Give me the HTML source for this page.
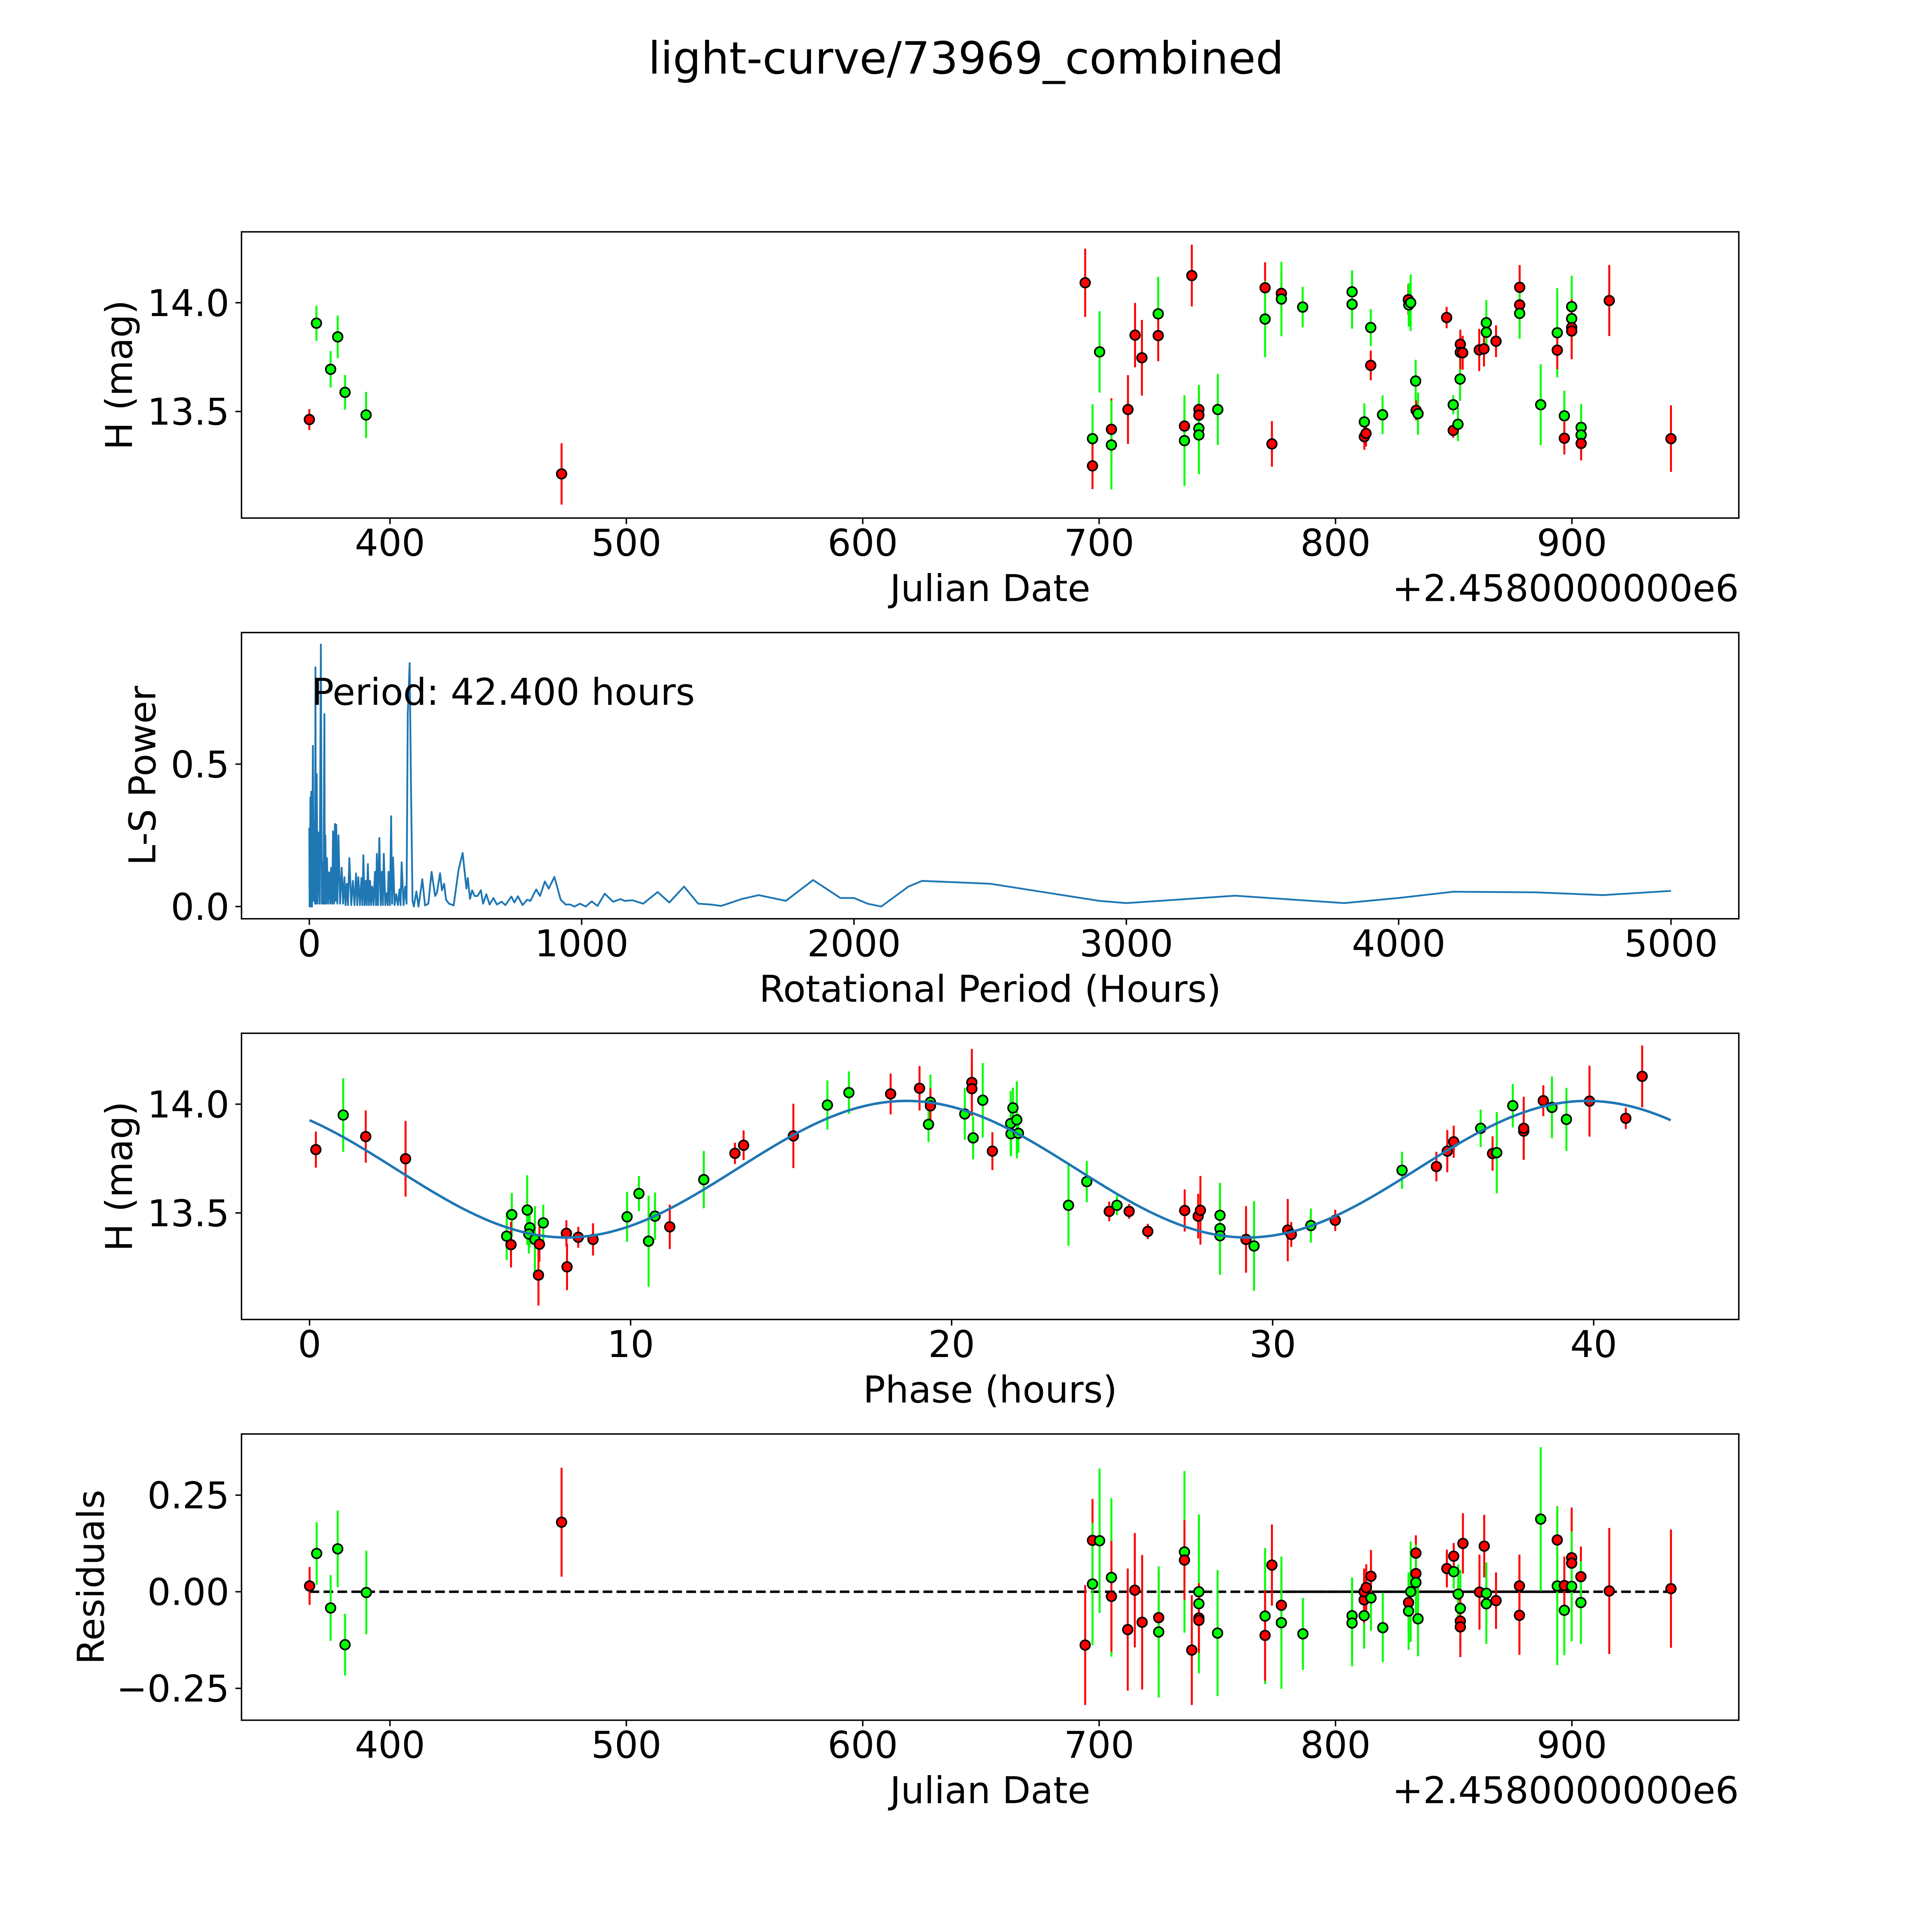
<!DOCTYPE html>
<html><head><meta charset="utf-8"><title>light-curve/73969_combined</title>
<style>
html,body{margin:0;padding:0;background:#fff;overflow:hidden;width:100%;height:100%;}
svg{display:block;width:100vw;height:100vh;}
text{font-family:"DejaVu Sans","Liberation Sans",sans-serif;fill:#000;}
</style></head>
<body>
<svg id="fig" xmlns="http://www.w3.org/2000/svg" viewBox="0 0 5400 5400" preserveAspectRatio="none">
<rect x="0" y="0" width="5400" height="5400" fill="#fff"/>
<text x="2700" y="206" font-size="124" text-anchor="middle">light-curve/73969_combined</text>
</svg>
<script>
// ---------- Panel 1: light curve (Julian Date offset from 2458000) ----------
const lcDate = [365.9,368.9,374.9,377.9,381.0,389.9,472.6,694.1,700.2,697.2,697.2,705.2,705.2,712.2,715.2,718.1,725.0,725.0,739.2,736.1,736.1,742.2,742.2,742.2,742.2,750.2,770.2,770.2,773.1,777.1,777.1,786.1,807.0,807.0,814.9,814.9,812.2,812.2,812.9,819.9,830.8,831.0,831.8,833.9,834.1,834.9,847.0,849.8,849.8,851.8,852.7,852.8,852.8,853.8,860.8,862.8,863.8,863.8,867.9,877.9,877.9,877.9,886.8,893.8,893.8,896.8,896.8,899.9,899.9,899.9,899.9,903.9,903.9,903.9,915.8,941.9];
const lcMag = [13.463,13.906,13.694,13.843,13.588,13.484,13.213,14.092,13.774,13.375,13.250,13.418,13.346,13.509,13.851,13.747,13.949,13.849,14.125,13.433,13.366,13.509,13.483,13.422,13.392,13.509,14.069,13.925,13.351,14.043,14.017,13.980,14.050,13.993,13.886,13.712,13.452,13.384,13.399,13.485,14.014,13.990,14.000,13.640,13.505,13.490,13.932,13.531,13.413,13.441,13.649,13.809,13.772,13.770,13.783,13.788,13.908,13.864,13.823,14.071,13.990,13.951,13.531,13.862,13.782,13.480,13.377,13.982,13.927,13.886,13.870,13.427,13.392,13.353,14.010,13.375];
const lcErr = [0.048,0.081,0.084,0.098,0.080,0.106,0.141,0.157,0.187,0.158,0.107,0.143,0.205,0.158,0.148,0.174,0.170,0.118,0.142,0.103,0.209,0.09,0.08,0.20,0.18,0.163,0.117,0.176,0.105,0.094,0.171,0.093,0.099,0.112,0.085,0.068,0.085,0.06,0.06,0.089,0.07,0.10,0.13,0.098,0.046,0.097,0.049,0.044,0.034,0.077,0.10,0.067,0.078,0.078,0.097,0.081,0.104,0.08,0.073,0.102,0.081,0.117,0.186,0.205,0.087,0.116,0.075,0.142,0.10,0.13,0.13,0.107,0.10,0.078,0.163,0.153];
const lcBand = ["r","g","g","g","g","g","r",
 "r","g","g","r","r","g","r","r","r","g","r","r","r","g","r","r","g","g","g","r","g","r","r","g","g",
 "g","g","g","r","g","r","r","g","r","g","g","g","r","g","r","g","r","g","g","r","r","r","r","r","g","g","r",
 "r","r","g","g","g","r","g","r","g","g","r","r","g","g","r","r","r"];

// ---------- Panel 2: Lomb-Scargle periodogram ----------
const lsPeriod = [0,1,3,4,6,7,8.4,10,13.1,16,19,21,22.5,24,27.2,30,33,38,42.4,46,49.5,52,55.4,57,59,62,64.7,69,73,77,80,84,87,91,94,97,99,103,107,113,119,124,129,133,137.5,142,147,154,160,166,171.5,176,180,186,191.4,195,198.5,203,207,211,215,219,223,227,231,236,241,245,248,252,257,262,266.5,270,273.5,279,284,288,291,296,300.5,304,307.5,313,319,325,331,335,339,346,352,357,361.5,368.5,373,379,384,393,401,415,425,437,449,462,469,480,487,495,502,513,530,548,563,577,582,590,598,607,618,630,638,650,662,676,689,706,720,742,753,766,783,800,812,833,847,865,879,900,923,941,958,974,994,1015,1037,1058,1085,1115,1143,1158,1187,1226,1279,1322,1376,1428,1475,1512,1590,1650,1750,1850,1950,2000,2050,2100,2200,2250,2500,2700,2900,3000,3200,3400,3600,3800,4000,4200,4500,4750,5000];
const lsPower = [0.277,0,0.2,0.383,0,0.403,0.01,0,0.564,0.02,0.297,0.01,0.84,0.01,0.465,0.01,0.26,0.01,0.92,0.01,0.155,0.01,0.676,0.01,0.25,0.01,0.17,0.01,0.12,0.01,0.136,0.01,0.264,0.01,0.29,0.02,0.287,0.01,0.25,0.01,0.136,0.01,0.103,0.005,0.08,0.005,0.17,0.005,0.09,0.005,0.116,0.005,0.103,0.005,0.1,0.005,0.18,0.005,0.09,0.005,0.149,0.005,0.09,0.005,0.07,0.005,0.122,0.005,0.185,0.005,0.241,0.005,0.122,0.005,0.185,0.005,0.047,0.005,0.122,0.005,0.317,0.01,0.172,0.005,0.043,0.005,0.06,0.005,0.155,0.005,0.07,0.01,0.676,0.855,0.445,0.02,0.0,0.053,0,0.096,0.004,0.01,0.122,0.037,0.05,0.117,0.057,0.08,0.024,0.01,0.004,0.129,0.188,0.063,0.1,0.027,0.057,0.037,0.037,0.057,0.01,0.043,0.007,0.03,0.007,0.017,0.005,0.035,0.014,0.036,0.005,0.024,0.02,0.06,0.037,0.088,0.063,0.104,0.024,0.007,0.007,0,0.01,0,0.018,0.002,0.045,0.017,0.026,0.02,0.022,0.01,0.051,0.014,0.07,0.01,0.007,0.002,0.027,0.04,0.02,0.093,0.03,0.03,0.01,0.0,0.07,0.09,0.08,0.05,0.02,0.012,0.025,0.038,0.025,0.012,0.03,0.052,0.05,0.04,0.055];
const lsPeriodLabel = "Period: 42.400 hours";

// ---------- Panel 3: phased light curve ----------
const phHours = [0.196,1.048,1.75,2.99,6.30,6.78,6.14,6.275,6.86,6.83,7.02,7.28,7.16,7.13,8.0,8.02,8.37,8.83,9.89,10.26,10.56,10.76,11.22,12.28,13.25,13.52,15.07,16.13,16.80,18.10,19.0,19.34,19.34,19.28,20.41,20.63,20.63,20.97,20.67,21.27,21.91,21.84,22.03,21.85,22.08,23.64,24.21,24.91,25.15,25.53,26.11,27.26,27.68,27.75,28.36,28.36,28.36,29.17,29.42,30.47,30.58,31.19,31.95,34.03,35.10,35.44,35.64,36.48,36.85,36.98,37.82,37.82,37.48,38.43,38.70,39.15,39.87,41.0,41.51];
const phMag = [13.791,13.950,13.851,13.749,13.492,13.513,13.393,13.354,13.432,13.403,13.378,13.454,13.356,13.214,13.406,13.252,13.388,13.378,13.482,13.589,13.370,13.485,13.436,13.653,13.774,13.811,13.854,13.996,14.053,14.047,14.073,14.009,13.992,13.907,13.955,14.100,14.071,14.018,13.845,13.784,13.983,13.911,13.928,13.864,13.866,13.535,13.644,13.507,13.535,13.507,13.415,13.511,13.485,13.512,13.489,13.428,13.395,13.378,13.348,13.421,13.401,13.442,13.466,13.696,13.713,13.784,13.827,13.889,13.773,13.777,13.876,13.889,13.993,14.016,13.985,13.930,14.014,13.935,14.128];
const phErr = [0.083,0.169,0.12,0.174,0.10,0.16,0.11,0.105,0.09,0.09,0.153,0.084,0.08,0.14,0.06,0.107,0.048,0.074,0.115,0.081,0.209,0.109,0.102,0.132,0.049,0.068,0.148,0.113,0.098,0.094,0.102,0.127,0.081,0.081,0.119,0.154,0.124,0.171,0.099,0.087,0.093,0.15,0.177,0.10,0.09,0.186,0.095,0.045,0.045,0.034,0.035,0.097,0.103,0.158,0.149,0.10,0.18,0.153,0.206,0.143,0.057,0.078,0.049,0.085,0.068,0.097,0.074,0.086,0.079,0.187,0.126,0.145,0.10,0.071,0.142,0.145,0.163,0.049,0.142];
const phBand = ["r","g","r","r","g","g","g","r","g","g","g","g","r","r","r","r","r","r","g","g",
 "g","g","r","g","r","r","r","g","g","r","r","g","r","g","g","r","r","g","g","r",
 "g","g","g","g","g","g","g","r","g","r","r","r","r","r","g","g","g","r","g","r",
 "r","g","r","g","r","r","r","g","r","g","r","r","g","r","g","g","r","r","r"];
// fitted model parameters
const fitMean = 13.701, fitAmp = 0.314, fitHalfPeriod = 21.2, fitPeak = 18.6, fitEnd = 42.4;

// ---------- Panel 4: residuals ----------
const resDate = [366.0,369.0,374.9,377.9,381.0,390.0,472.6,694.1,697.2,700.2,697.2,705.2,705.2,712.1,715.1,718.2,725.2,725.2,736.1,736.1,739.2,742.2,742.2,742.2,742.2,750.1,770.2,770.2,773.1,777.1,777.1,786.2,807.0,807.0,812.1,812.1,812.1,813.0,815.0,815.0,820.0,830.9,830.9,831.8,834.0,834.0,834.0,834.9,847.1,850.0,850.0,851.9,852.8,853.9,852.8,852.8,860.9,862.9,863.8,863.8,867.9,877.8,877.8,886.8,893.8,893.8,896.8,896.8,899.9,899.9,899.9,903.8,903.8,915.8,941.9];
const resValue = [0.015,0.099,-0.042,0.111,-0.137,-0.002,0.18,-0.138,0.133,0.132,0.020,0.037,-0.012,-0.098,0.004,-0.079,-0.067,-0.104,0.103,0.082,-0.151,0.0,-0.031,-0.068,-0.074,-0.107,-0.063,-0.113,0.069,-0.035,-0.080,-0.109,-0.062,-0.081,-0.062,-0.021,0.0,0.011,-0.016,0.040,-0.093,-0.028,-0.050,0.0,0.100,0.047,0.024,-0.070,0.060,0.052,0.092,-0.006,-0.043,0.125,-0.076,-0.091,-0.001,0.118,-0.004,-0.031,-0.023,0.015,-0.061,0.188,0.134,0.015,-0.048,0.016,0.088,0.074,0.014,0.039,-0.028,0.002,0.008];
const resErr = [0.049,0.081,0.085,0.099,0.08,0.108,0.141,0.155,0.107,0.187,0.158,0.205,0.143,0.158,0.148,0.174,0.118,0.17,0.209,0.103,0.142,0.2,0.18,0.09,0.08,0.163,0.176,0.117,0.105,0.094,0.171,0.093,0.099,0.112,0.085,0.06,0.06,0.06,0.085,0.068,0.089,0.07,0.1,0.13,0.046,0.046,0.098,0.097,0.049,0.044,0.034,0.077,0.1,0.078,0.067,0.078,0.097,0.081,0.08,0.104,0.073,0.081,0.102,0.186,0.087,0.205,0.116,0.075,0.13,0.13,0.142,0.078,0.107,0.163,0.153];
const resBand = ["r","g","g","g","g","g","r",
 "r","r","g","g","g","r","r","r","r","r","g","g","r","r","g","g","r","r","g",
 "g","r","r","r","g","g","g","g","g","r","r","r","g","r","g","r","g","g","r","r","g","g",
 "r","g","r","g","g","r","r","r","r","r","g","g","r","r","r","g","r","g","g","r","r","r","g","r","g","r","r"];
const resZero = 0.0;

// ---------- axis tick arrays ----------
const jdTicks = [400,500,600,700,800,900];
const magTicks = [13.5,14.0];
const magTickLabels = ["13.5","14.0"];
const lsXTicks = [0,1000,2000,3000,4000,5000];
const lsYTicks = [0.0,0.5];
const lsYTickLabels = ["0.0","0.5"];
const phTicks = [0,10,20,30,40];
const resTicks = [-0.25,0.0,0.25];
const resTickLabels = ["\u22120.25","0.00","0.25"];

// ---------- rendering ----------
const NS = "http://www.w3.org/2000/svg";
const svg = document.getElementById("fig");
function mk(tag, attrs, parent) {
  const el = document.createElementNS(NS, tag);
  for (const k in attrs) el.setAttribute(k, attrs[k]);
  (parent || svg).appendChild(el);
  return el;
}
function makeAxes(y0, xmin, xmax, ymin, ymax) {
  const a = {x0:675, x1:4860, y0:y0, y1:y0+800, xmin:xmin, xmax:xmax, ymin:ymin, ymax:ymax};
  a.sx = v => a.x0 + (v - a.xmin) / (a.xmax - a.xmin) * (a.x1 - a.x0);
  a.sy = v => a.y1 - (v - a.ymin) / (a.ymax - a.ymin) * (a.y1 - a.y0);
  return a;
}
const COL = {r:"#ff0000", g:"#00ff00"};
const FS = 103;

function drawFrame(a, name, xt, xtl, yt, ytl, xlabel, ylabel, ylabelX, offsetText) {
  const g = mk("g", {});
  
  
  xt.forEach((v, i) => {
    const X = a.sx(v);
    const t = mk("line", {x1:X, x2:X, y1:a.y1, y2:a.y1+17, stroke:"#000", "stroke-width":4}, g);
    
    
    const lb = mk("text", {x:X, y:a.y1+105, "font-size":FS, "text-anchor":"middle"}, g);
    lb.textContent = xtl[i];
    
    
  });
  yt.forEach((v, i) => {
    const Y = a.sy(v);
    const t = mk("line", {x1:a.x0-17, x2:a.x0, y1:Y, y2:Y, stroke:"#000", "stroke-width":4}, g);
    
    
    const lb = mk("text", {x:641, y:Y+37, "font-size":FS, "text-anchor":"end"}, g);
    lb.textContent = ytl[i];
    
    
  });
  const xl = mk("text", {x:(a.x0+a.x1)/2, y:a.y1+232, "font-size":FS, "text-anchor":"middle"}, g);
  xl.textContent = xlabel;
  
  
  const cy = (a.y0+a.y1)/2;
  const yl = mk("text", {x:ylabelX, y:cy, "font-size":FS, "text-anchor":"middle", transform:"rotate(-90 "+ylabelX+" "+cy+")"}, g);
  yl.textContent = ylabel;
  
  
  if (offsetText) {
    const ot = mk("text", {x:a.x1, y:a.y1+232, "font-size":FS, "text-anchor":"end"}, g);
    ot.textContent = offsetText;
    
    
  }
  return g;
}
function drawSpines(a, name) {
  const r = mk("rect", {x:a.x0, y:a.y0, width:a.x1-a.x0, height:a.y1-a.y0, fill:"none", stroke:"#000", "stroke-width":4});
  
  
}
function clipFor(a, id) {
  const cp = mk("clipPath", {id:id});
  mk("rect", {x:a.x0, y:a.y0, width:a.x1-a.x0, height:a.y1-a.y0}, cp);
  return "url(#" + id + ")";
}
function drawErrPoints(a, xs, ys, es, bands, name) {
  const g = mk("g", {"clip-path": clipFor(a, name + "-clip")});
  
  
  xs.forEach((xv, i) => {
    const X = a.sx(xv);
    const e = mk("line", {x1:X, x2:X, y1:a.sy(ys[i]-es[i]), y2:a.sy(ys[i]+es[i]), stroke:COL[bands[i]] || "#ff0000", "stroke-width":5.5}, g);
    
    
  });
  xs.forEach((xv, i) => {
    const c = mk("circle", {cx:a.sx(xv), cy:a.sy(ys[i]), r:13.5, fill:COL[bands[i]] || "#ff0000", stroke:"#000", "stroke-width":4.5}, g);
    
    
  });
}

// Panel 1
const A1 = makeAxes(648, 337.2, 970.6, 13.010, 14.326);
drawFrame(A1, "light-curve", jdTicks, jdTicks.map(String), magTicks, magTickLabels, "Julian Date", "H (mag)", 369, "+2.4580000000e6");
drawErrPoints(A1, lcDate, lcMag, lcErr, lcBand, "light-curve");
drawSpines(A1, "light-curve");

// Panel 2
const A2 = makeAxes(1768, -249, 5249, -0.043, 0.962);
drawFrame(A2, "periodogram", lsXTicks, lsXTicks.map(String), lsYTicks, lsYTickLabels, "Rotational Period (Hours)", "L-S Power", 434, null);
const lsPts = lsPeriod.map((p, i) => A2.sx(p).toFixed(1) + "," + A2.sy(lsPower[i]).toFixed(1)).join(" ");
const lsLine = mk("polyline", {points:lsPts, fill:"none", stroke:"#1f77b4", "stroke-width":5, "stroke-linejoin":"round", "clip-path":clipFor(A2, "ls-clip")});


const perText = mk("text", {x:871, y:1970, "font-size":FS});
perText.textContent = lsPeriodLabel;


drawSpines(A2, "periodogram");

// Panel 3
const A3 = makeAxes(2888, -2.12, 44.52, 13.010, 14.326);
drawFrame(A3, "phase", phTicks, phTicks.map(String), magTicks, magTickLabels, "Phase (hours)", "H (mag)", 369, null);
drawErrPoints(A3, phHours, phMag, phErr, phBand, "phase");
{
  const pts = [];
  for (let k = 0; k <= 400; k++) {
    const p = fitEnd * k / 400;
    const m = fitMean + fitAmp * Math.cos(2 * Math.PI * (p - fitPeak) / fitHalfPeriod);
    pts.push(A3.sx(p).toFixed(1) + "," + A3.sy(m).toFixed(1));
  }
  const fit = mk("polyline", {points:pts.join(" "), fill:"none", stroke:"#1f77b4", "stroke-width":7});
  
  
}
drawSpines(A3, "phase");

// Panel 4
const A4 = makeAxes(4008, 337.2, 970.6, -0.3324, 0.4083);
drawFrame(A4, "residuals", jdTicks, jdTicks.map(String), resTicks, resTickLabels, "Julian Date", "Residuals", 290, "+2.4580000000e6");
{
  const dmin = Math.min(...resDate), dmax = Math.max(...resDate);
  const z1 = mk("line", {x1:A4.sx(dmin), x2:A4.sx(dmax), y1:A4.sy(resZero), y2:A4.sy(resZero), stroke:"#000", "stroke-width":7, "stroke-dasharray":"27 12"});
  
  
  const z2 = mk("line", {x1:A4.sx(770), x2:A4.sx(903.8), y1:A4.sy(resZero), y2:A4.sy(resZero), stroke:"#000", "stroke-width":7});
  
  
}
drawErrPoints(A4, resDate, resValue, resErr, resBand, "residuals");
drawSpines(A4, "residuals");
</script>
</body></html>
